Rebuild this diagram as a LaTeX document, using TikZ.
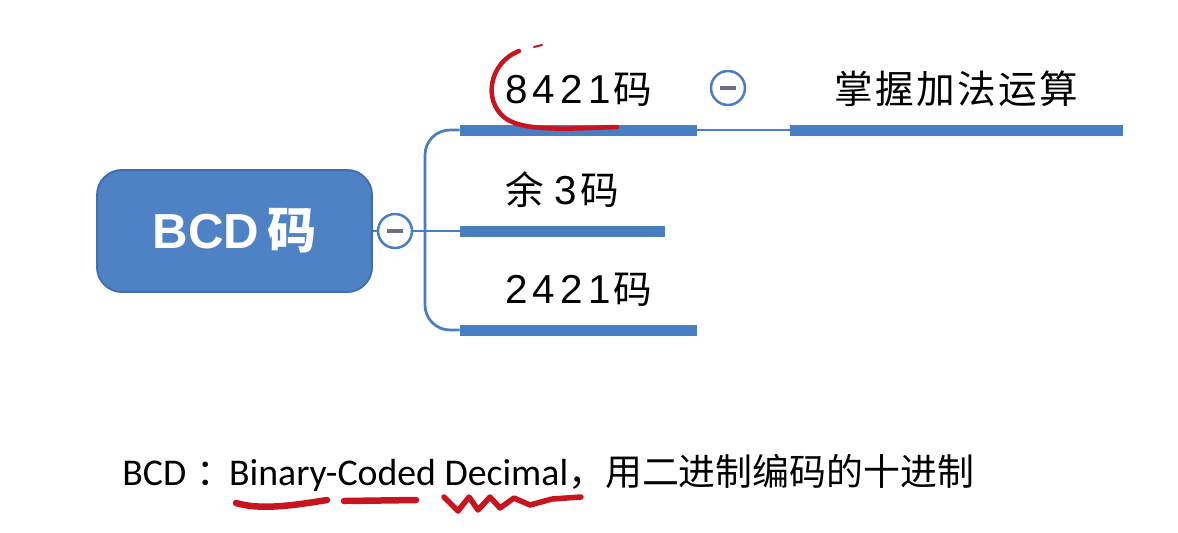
\documentclass[tikz,border=0pt]{standalone}
\usepackage{fontspec}
\setmainfont{Liberation Sans}
\newfontfamily\zhfont[LetterSpace=6]{Noto Sans CJK SC}
\newfontfamily\numfont[LetterSpace=13]{Liberation Sans}
\newfontfamily\notefont{Carlito}
\newfontfamily\notezh{Noto Sans CJK SC}
\usetikzlibrary{positioning}
\definecolor{topic}{HTML}{4A7EC2}
\definecolor{rootfill}{HTML}{4F82C5}
\definecolor{rootline}{HTML}{3F6FB0}
\definecolor{minus}{HTML}{6E6E85}
\definecolor{pen}{HTML}{C8141E}
\newcommand\digits[1]{{\numfont\fontsize{23}{26}\selectfont #1}}

\begin{document}
\begin{tikzpicture}[x=0.02cm,y=-0.02cm,
 root/.style={draw=rootline,line width=0.4mm,rounded corners=5mm,fill=rootfill,text=white,
   minimum width=5.5cm,minimum height=2.44cm,font=\fontsize{28}{32}\selectfont\bfseries},
 bar/.style={fill=topic,inner sep=0pt,minimum height=2.2mm},
 topic/.style={inner sep=0pt,font=\fontsize{22}{26}\selectfont},
 link/.style={draw=topic,line width=0.55mm},
 fold/.style={circle,draw=topic,line width=0.5mm,fill=white,minimum size=6.8mm,inner sep=0pt,
   path picture={\draw[minus,line width=0.7mm]
     ([xshift=-1.6mm]path picture bounding box.center) -- ([xshift=1.6mm]path picture bounding box.center);}},
 ink/.style={draw=pen,line width=0.9mm,line cap=round,line join=round}]
\useasboundingbox (0,0) rectangle (1178,532);
% main topic
\node[root] (r) at (234.5,231) {BCD\,{\zhfont 码}};
\node[fold] (f0) at (395,231) {};
\coordinate (j) at (425,231);
% branches
\node[bar,minimum width=4.74cm] (b1) at (578.5,130) {};
\node[bar,minimum width=4.1cm] (b2) at (562.5,231) {};
\node[bar,minimum width=4.74cm] (b3) at (578.5,330) {};
\node[bar,minimum width=6.66cm] (b4) at (956.5,130) {};
\node[topic,above=3.4mm of b1] (t1) {\digits{8421}\hspace{0.5mm}{\zhfont 码}};
\node[topic,above=3.4mm of b2] (t2) {{\zhfont 余}\hspace{2mm}\digits{3}\hspace{0.8mm}{\zhfont 码}};
\node[topic,above=3.4mm of b3] (t3) {\digits{2421}\hspace{0.5mm}{\zhfont 码}};
\node[topic,above=3.4mm of b4] (t4) {\zhfont 掌握加法运算};
\node[fold] (f1) at (728,88) {};
\draw[link] (r) -- (f0);
\draw[link] (f0) -- (j) -- (b2.west);
\draw[link,rounded corners=5mm] (b1.west) -- (j |- b1) -- (j |- b3) -- (b3.west);
\draw[link] (b1.east) -- (b4.west);
% note
\node[anchor=base west,inner sep=0pt,font=\fontsize{21.5}{26}\selectfont] (n) at (122,485)
 {\notefont BCD\hspace{2mm}{\notezh\fontsize{21}{26}\selectfont ：}\hspace{-0.8mm}Binary-Coded Decimal{\notezh\fontsize{21}{26}\selectfont ，用二进制编码的十进制}};
% red pen marks
\draw[ink] (519,51) .. controls (490,62) and (482,100) .. (505,118)
 .. controls (525,133) and (580,128) .. (617,127);
\draw[ink,line width=0.4mm] (534,47) -- (542,45);
\draw[ink,line width=1.3mm] (236,503) .. controls (260,510) and (290,506) .. (327,500);
\draw[ink,line width=1.3mm] (344,501) -- (416,500);
\draw[ink,line width=1.1mm] (444,497) -- (458,511) -- (469,497) -- (478,510) -- (490,497) -- (500,508)
 -- (514,498) -- (530,505) -- (552,499) -- (581,497);
\end{tikzpicture}
\end{document}
